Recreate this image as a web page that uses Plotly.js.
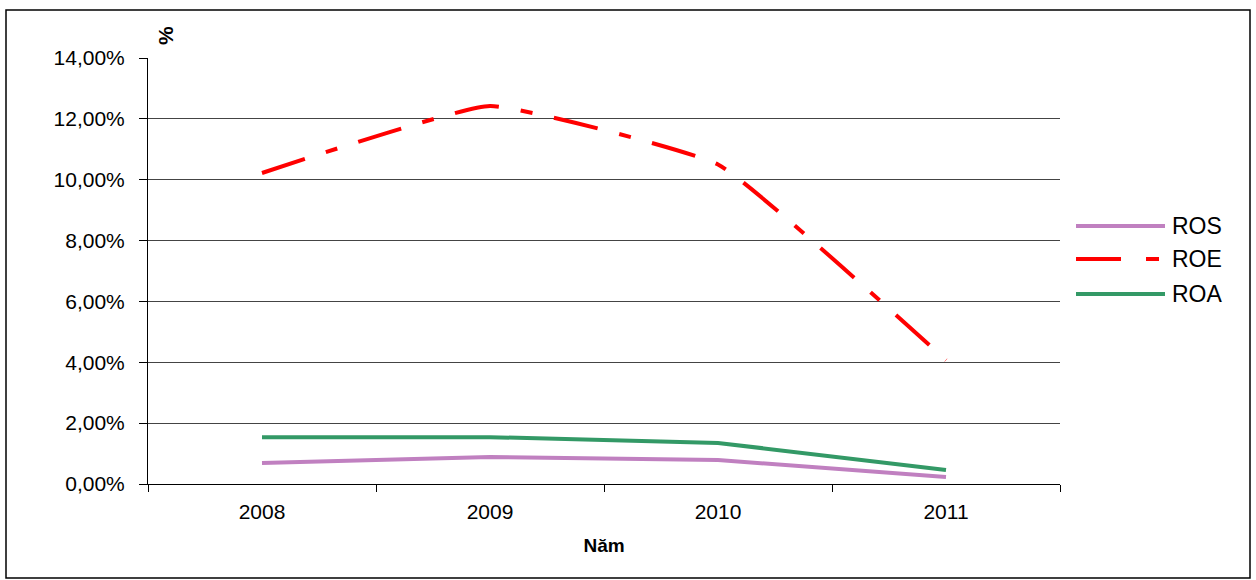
<!DOCTYPE html>
<html>
<head>
<meta charset="utf-8">
<script src="https://cdn.plot.ly/plotly-3.0.1.min.js"></script>
<style>html,body{margin:0;padding:0;background:#fff;}#chart{width:1256px;height:580px;}</style>
</head>
<body>
<div id="chart"></div>
<script>
const years = ["2008", "2009", "2010", "2011"];
const seriesNames = ["ROS", "ROE", "ROA"];
const ros = [0.0069, 0.0089, 0.0079, 0.0023];
const roe = [0.1022, 0.1242, 0.1050, 0.0407];
const roa = [0.0154, 0.0154, 0.0135, 0.0046];
const yTicks = [0, 0.02, 0.04, 0.06, 0.08, 0.10, 0.12, 0.14];

const colors = ["#C080C0", "#FF0000", "#339966"];
const FONT = "Liberation Sans, Arial, sans-serif";

const traces = [
  {x: years, y: ros, name: seriesNames[0], type: "scatter", mode: "lines",
   line: {color: colors[0], width: 4}},
  {x: years, y: roe, name: seriesNames[1], type: "scatter", mode: "lines",
   line: {color: colors[1], width: 4, dash: "45px,22px,12px,22px", shape: "spline", smoothing: 0.35}},
  {x: years, y: roa, name: seriesNames[2], type: "scatter", mode: "lines",
   line: {color: colors[2], width: 4}}
];

const L = 148, R = 1060, T = 58, B = 484, W = 1256, H = 580;
const pw = R - L, ph = B - T;
const px = v => (v - L) / pw;
const py = v => (B - v) / ph;

const legendY = [226, 259, 294];
const shapes = [
  {type: "rect", xref: "paper", yref: "paper", x0: px(6), x1: px(1250), y0: py(578), y1: py(10),
   line: {color: "#000", width: 1.5}, fillcolor: "rgba(0,0,0,0)", layer: "below"}
];
const annotations = [
  {xref: "paper", yref: "paper", x: px(152), y: py(24), text: "<b>%</b>", showarrow: false,
   textangle: -90, font: {family: FONT, size: 21, color: "#000"}}
];
seriesNames.forEach((n, i) => {
  shapes.push({type: "line", xref: "paper", yref: "paper", x0: px(1076), x1: px(1165),
    y0: py(legendY[i]), y1: py(legendY[i]),
    line: {color: colors[i], width: 4, dash: i === 1 ? "45px,25px,13px,25px" : "solid"}});
  annotations.push({xref: "paper", yref: "paper", x: px(1170), y: py(legendY[i]), xanchor: "left",
    yanchor: "middle", text: n, showarrow: false, font: {family: FONT, size: 23, color: "#000"}});
});

const layout = {
  width: W, height: H,
  margin: {l: L, r: W - R, t: T, b: H - B, pad: 0},
  paper_bgcolor: "#fff", plot_bgcolor: "#fff",
  separators: ", ",
  showlegend: false,
  font: {family: FONT, size: 21, color: "#000"},
  xaxis: {
    type: "category", range: [-0.5, 3.5], showgrid: false,
    showline: true, linecolor: "#000", linewidth: 1,
    ticks: "outside", ticklen: 7, tickcolor: "#000", tickson: "boundaries",
    ticklabelstandoff: 9,
    tickfont: {family: FONT, size: 21, color: "#000"},
    title: {text: "<b>Năm</b>", font: {family: FONT, size: 19, color: "#000"}, standoff: 16}
  },
  yaxis: {
    range: [0, 0.14], tickvals: yTicks, tickformat: ".2%",
    showgrid: true, gridcolor: "#444", gridwidth: 1,
    showline: true, linecolor: "#000", linewidth: 1,
    ticks: "outside", ticklen: 8, tickcolor: "#000",
    ticklabelstandoff: 10, zeroline: false,
    tickfont: {family: FONT, size: 21, color: "#000"}
  },
  shapes: shapes,
  annotations: annotations
};

Plotly.newPlot("chart", traces, layout, {displayModeBar: false, staticPlot: true});
</script>
</body>
</html>
